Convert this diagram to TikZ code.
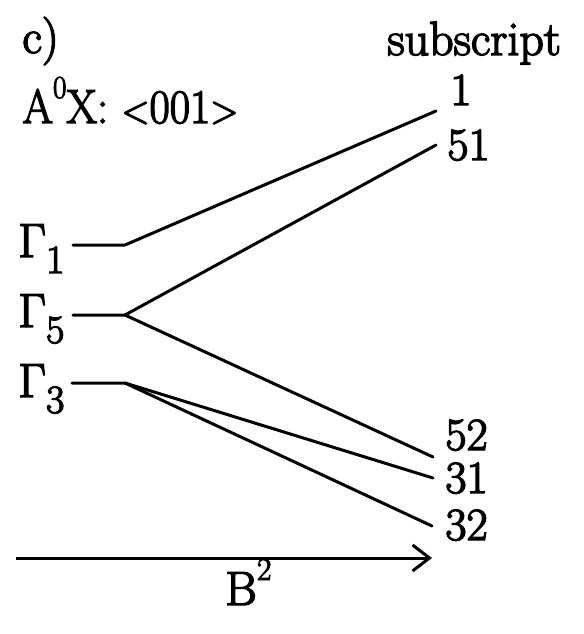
\documentclass[tikz,border=0pt]{standalone}
\usepackage{fontspec}
\newfontfamily\heavy{Latin Modern Roman}[FakeBold=3]
\usetikzlibrary{arrows.meta}
\begin{document}
\begin{tikzpicture}[x=0.5pt,y=-0.5pt,
  lbl/.style={anchor=base west,inner sep=0pt,font=\heavy\fontsize{24}{28}\selectfont},
  num/.style={lbl,font=\heavy\fontsize{23}{26}\selectfont},
  lvl/.style={line width=1.5pt,line cap=round,line join=round},
  axis/.style={line width=1.5pt,-{Straight Barb[length=8.5pt,width=13pt,line width=1.5pt]}}]
\useasboundingbox (0,0) rectangle (584,634);
\newcommand{\lowsub}[1]{\raisebox{-8pt}{\fontsize{20}{24}\selectfont #1}}
\newcommand{\highsup}[1]{\raisebox{12.5pt}{\fontsize{16}{18}\selectfont #1}}
% labels
\node[lbl] (c) at (22,53) {c)};
\node[lbl] (ax) at (22,123) {\scalebox{0.92}[1]{A\highsup{0}X: {\fontsize{20}{24}\selectfont\char"3C}001{\fontsize{20}{24}\selectfont\char"3E}}};
\node[lbl] (sub) at (387,55) {subscript};
\node[lbl] (G1) at (18,257) {Γ\lowsub{1}};
\node[lbl] (G5) at (18,327) {Γ\lowsub{5}};
\node[lbl] (G3) at (18,397) {Γ\lowsub{3}};
\node[num] (n1) at (450,105) {1};
\node[num] (n51) at (447,160) {51};
\node[num] (n52) at (445,450) {52};
\node[num] (n31) at (445,493) {31};
\node[num] (n32) at (445,540) {32};
\node[lbl] (B) at (225,605) {B\highsup{2}};
% coordinates
\coordinate (g1a) at (73,245);  \coordinate (g1b) at (125,245);
\coordinate (g5a) at (73,315);  \coordinate (g5b) at (125,315);
\coordinate (g3a) at (72,383);  \coordinate (g3b) at (125,383);
\coordinate (e1) at (436,111);
\coordinate (e51) at (436,145);
\coordinate (e52) at (433,457);
\coordinate (e31) at (433,478);
\coordinate (e32) at (432,526);
\coordinate (ba) at (16,558); \coordinate (bb) at (432,558);
% level lines
\draw[lvl] (g1a) -- (g1b) -- (e1);
\draw[lvl] (g5a) -- (g5b) -- (e51);
\draw[lvl] (g5b) -- (e52);
\draw[lvl] (g3a) -- (g3b) -- (e31);
\draw[lvl] (g3b) -- (e32);
% field axis
\draw[axis] (ba) -- (bb);
\end{tikzpicture}
\end{document}
